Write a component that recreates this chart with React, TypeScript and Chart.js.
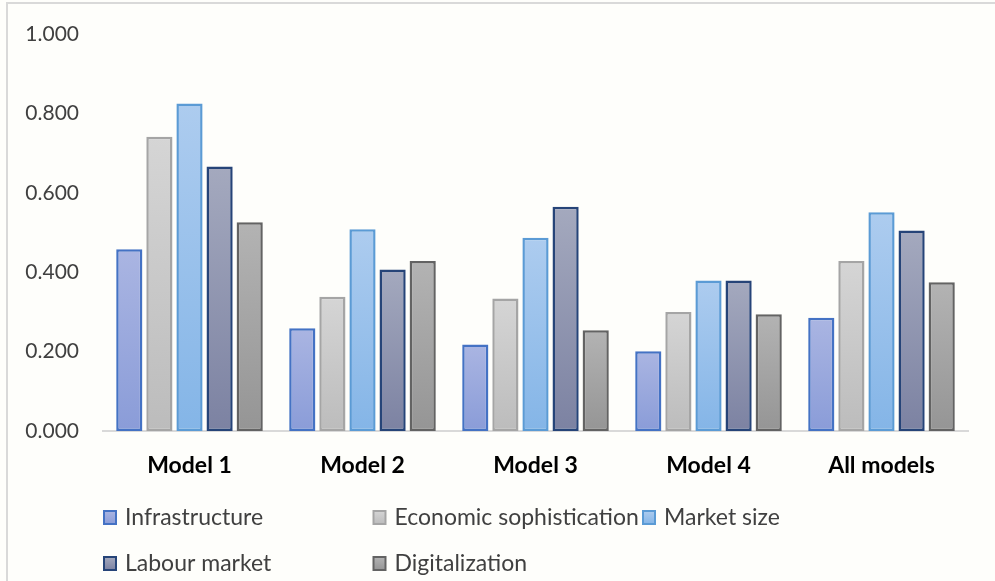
import React, { useEffect, useRef } from "react";
import { Chart, registerables } from "chart.js";

Chart.register(...registerables);

const categories = ["Model 1", "Model 2", "Model 3", "Model 4", "All models"];
const seriesNames = [
  "Infrastructure",
  "Economic sophistication",
  "Market size",
  "Labour market",
  "Digitalization",
];
const infrastructure = [0.458, 0.259, 0.218, 0.201, 0.285];
const economicSophistication = [0.741, 0.338, 0.334, 0.3, 0.428];
const marketSize = [0.825, 0.508, 0.487, 0.379, 0.551];
const labourMarket = [0.666, 0.407, 0.565, 0.379, 0.505];
const digitalization = [0.526, 0.428, 0.254, 0.294, 0.375];
const yTicks = [0, 0.2, 0.4, 0.6, 0.8, 1.0];

const seriesValues = [
  infrastructure,
  economicSophistication,
  marketSize,
  labourMarket,
  digitalization,
];

// fill gradient (top, bottom) and outline per series
const palette = [
  { top: "#AAB5E2", bottom: "#8A9CD8", border: "#4472C4" },
  { top: "#D5D5D5", bottom: "#BCBCBC", border: "#A5A5A5" },
  { top: "#ADCCEF", bottom: "#84B5E7", border: "#5B9BD5" },
  { top: "#A4A9BE", bottom: "#7C82A2", border: "#264478" },
  { top: "#B3B3B3", bottom: "#959595", border: "#636363" },
];

const FONT = "Lato, 'Noto Sans', sans-serif";
const BG = "#FEFEFB";

const framePlugin = {
  id: "frame",
  beforeDraw(chart: any) {
    const { ctx, width, height } = chart;
    ctx.save();
    ctx.fillStyle = BG;
    ctx.fillRect(0, 0, width, height);
    ctx.strokeStyle = "#D9D9D9";
    ctx.lineWidth = 2;
    ctx.beginPath();
    ctx.moveTo(7, height);
    ctx.lineTo(7, 3);
    ctx.lineTo(width, 3);
    ctx.stroke();
    ctx.restore();
  },
};

// legend laid out on a fixed grid of three columns
const gridLegendPlugin = {
  id: "gridLegend",
  afterDraw(chart: any) {
    const { ctx } = chart;
    const colX = 104;
    const colStep = 269.5;
    const rowY = [517, 563];
    ctx.save();
    ctx.font = `23px ${FONT}`;
    ctx.textBaseline = "middle";
    ctx.textAlign = "left";
    chart.data.datasets.forEach((ds: any, i: number) => {
      const col = i % 3;
      const row = Math.floor(i / 3);
      const x = colX + col * colStep;
      const y = rowY[row];
      const p = palette[i];
      const g = ctx.createLinearGradient(0, y - 6, 0, y + 7);
      g.addColorStop(0, p.top);
      g.addColorStop(1, p.bottom);
      ctx.fillStyle = g;
      ctx.fillRect(x, y - 6, 12, 13);
      ctx.strokeStyle = p.border;
      ctx.lineWidth = 2;
      ctx.strokeRect(x, y - 6, 12, 13);
      ctx.fillStyle = "#404040";
      ctx.fillText(ds.label, x + 21, y + 1);
    });
    ctx.restore();
  },
};

export default function App() {
  const canvasRef = useRef<HTMLCanvasElement | null>(null);

  useEffect(() => {
    document.body.style.margin = "0";
    const canvas = canvasRef.current;
    if (!canvas) return;

    const datasets = seriesValues.map((values, i) => ({
      label: seriesNames[i],
      data: values,
      borderColor: palette[i].border,
      borderWidth: 2.5,
      borderSkipped: false as const,
      backgroundColor: (c: any) => {
        const chart = c.chart;
        const p = palette[i];
        if (!chart.chartArea || c.raw === undefined) return p.top;
        const yScale = chart.scales.y;
        const yTop = yScale.getPixelForValue(c.raw);
        const yBase = yScale.getPixelForValue(0);
        if (!isFinite(yTop) || yBase - yTop < 1) return p.top;
        const g = chart.ctx.createLinearGradient(0, yTop, 0, yBase);
        g.addColorStop(0, p.top);
        g.addColorStop(1, p.bottom);
        return g;
      },
      categoryPercentage: 0.87,
      barPercentage: 0.87,
    }));

    const chart = new Chart(canvas, {
      type: "bar",
      data: { labels: categories, datasets },
      plugins: [framePlugin, gridLegendPlugin],
      options: {
        animation: false,
        responsive: false,
        maintainAspectRatio: false,
        devicePixelRatio: 1,
        layout: { padding: { top: 34, right: 27, left: 0, bottom: 0 } },
        plugins: {
          legend: { display: false },
          tooltip: { enabled: false },
        },
        scales: {
          x: {
            grid: { display: false },
            border: { display: true, color: "#D9D9D9", width: 2 },
            ticks: {
              color: "#000000",
              font: { family: FONT, size: 23, weight: "bold" },
              padding: 13,
              maxRotation: 0,
            },
            afterFit: (s: any) => {
              s.height = 150;
              s.paddingLeft = 0;
              s.paddingRight = 0;
            },
          },
          y: {
            min: 0,
            max: 1,
            afterBuildTicks: (s: any) => {
              s.ticks = yTicks.map((v) => ({ value: v }));
            },
            grid: { display: false },
            border: { display: false },
            ticks: {
              color: "#404040",
              font: { family: FONT, size: 21 },
              padding: 16,
              callback: (v: any) => Number(v).toFixed(3),
            },
            afterFit: (s: any) => {
              s.width = 103;
              s.paddingTop = 0;
              s.paddingBottom = 0;
            },
          },
        },
      },
    });

    return () => chart.destroy();
  }, []);

  return (
    <div
      style={{
        position: "absolute",
        left: 0,
        top: 0,
        width: 995,
        height: 581,
        background: BG,
      }}
    >
      <canvas ref={canvasRef} width={995} height={581} style={{ width: 995, height: 581 }} />
    </div>
  );
}
